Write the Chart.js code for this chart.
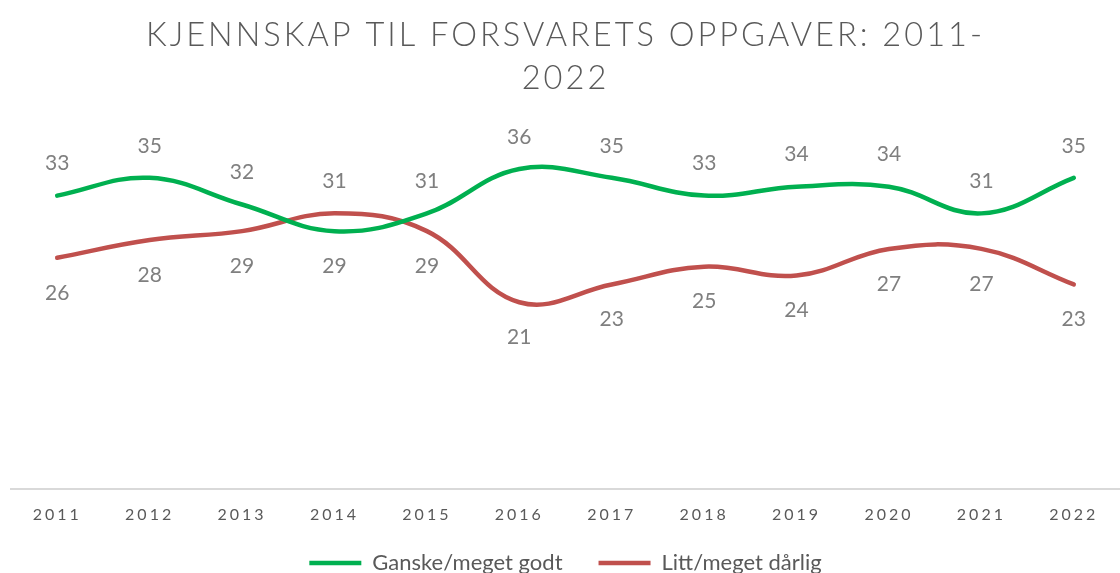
<!DOCTYPE html>
<html>
<head>
<meta charset="utf-8">
<script src="https://cdn.jsdelivr.net/npm/chart.js@4/dist/chart.umd.min.js"></script>
<style>
  html, body { margin: 0; padding: 0; background: #ffffff; }
  #wrap { width: 1120px; height: 573px; }
</style>
</head>
<body>
<div id="wrap"><canvas id="c"></canvas></div>
<script>
const titleLines = ["KJENNSKAP TIL FORSVARETS OPPGAVER: 2011-", "2022"];
const years = ["2011", "2012", "2013", "2014", "2015", "2016", "2017", "2018", "2019", "2020", "2021", "2022"];
const seriesNames = ["Ganske/meget godt", "Litt/meget dårlig"];
const godt = [33, 35, 32, 29, 31, 36, 35, 33, 34, 34, 31, 35];
const darlig = [26, 28, 29, 31, 29, 21, 23, 25, 24, 27, 27, 23];

const FONT = "Lato, 'Open Sans', 'Liberation Sans', sans-serif";

const spacingPlugin = {
  id: 'spacing',
  afterInit(chart) {
    const lg = chart.legend;
    if (lg) {
      lg._layers = () => [{ z: 1, draw: (ca) => {
        const ctx = chart.ctx;
        ctx.save();
        ctx.letterSpacing = '0px';
        ctx.translate(0, -24);
        lg.draw(ca);
        ctx.restore();
      } }];
    }
  },
  beforeDraw(chart) {
    chart.ctx.letterSpacing = '3px';
  },
  beforeDatasetsDraw(chart) {
    chart.ctx.letterSpacing = '0px';
  }
};

const labelPlugin = {
  id: 'valueLabels',
  afterDatasetsDraw(chart) {
    const ctx = chart.ctx;
    ctx.save();
    ctx.letterSpacing = '0px';
    ctx.font = "21px " + FONT;
    ctx.fillStyle = '#7f7f7f';
    ctx.textAlign = 'center';
    ctx.textBaseline = 'middle';
    const ds = chart.data.datasets;
    ds.forEach((d, di) => {
      const other = ds[1 - di].data;
      const meta = chart.getDatasetMeta(di);
      meta.data.forEach((pt, i) => {
        const above = d.data[i] >= other[i];
        const y = pt.y + (above ? -32 : 35);
        ctx.fillText(String(d.data[i]), pt.x, y);
      });
    });
    ctx.restore();
  }
};

new Chart(document.getElementById('c'), {
  type: 'line',
  data: {
    labels: years,
    datasets: [
      { label: seriesNames[0], data: godt, borderColor: '#00b050', backgroundColor: '#00b050',
        borderWidth: 4.5, pointRadius: 0, tension: 0.4, borderCapStyle: 'round' },
      { label: seriesNames[1], data: darlig, borderColor: '#c0504d', backgroundColor: '#c0504d',
        borderWidth: 4.5, pointRadius: 0, tension: 0.4, borderCapStyle: 'round' }
    ]
  },
  options: {
    responsive: true,
    maintainAspectRatio: false,
    animation: false,
    layout: { padding: { left: 11, right: 0, top: 0, bottom: -35 } },
    plugins: {
      tooltip: { enabled: false },
      title: {
        display: true,
        text: titleLines,
        color: '#595959',
        font: { family: FONT, size: 32.6, weight: '300', lineHeight: 1.31 },
        padding: { top: 14, bottom: 34 }
      },
      legend: {
        display: true,
        position: 'bottom',
        labels: {
          color: '#595959',
          font: { family: FONT, size: 22 },
          usePointStyle: true,
          pointStyle: 'line',
          pointStyleWidth: 52,
          padding: 36
        }
      }
    },
    scales: {
      x: {
        offset: true,
        grid: { display: false, drawTicks: false },
        border: { display: true, color: '#d9d9d9', width: 2 },
        ticks: { color: '#595959', font: { family: FONT, size: 16 }, padding: 16, autoSkip: false, maxRotation: 0 }
      },
      y: {
        display: false,
        min: 0,
        max: 40
      }
    }
  },
  plugins: [spacingPlugin, labelPlugin]
});
</script>
</body>
</html>
